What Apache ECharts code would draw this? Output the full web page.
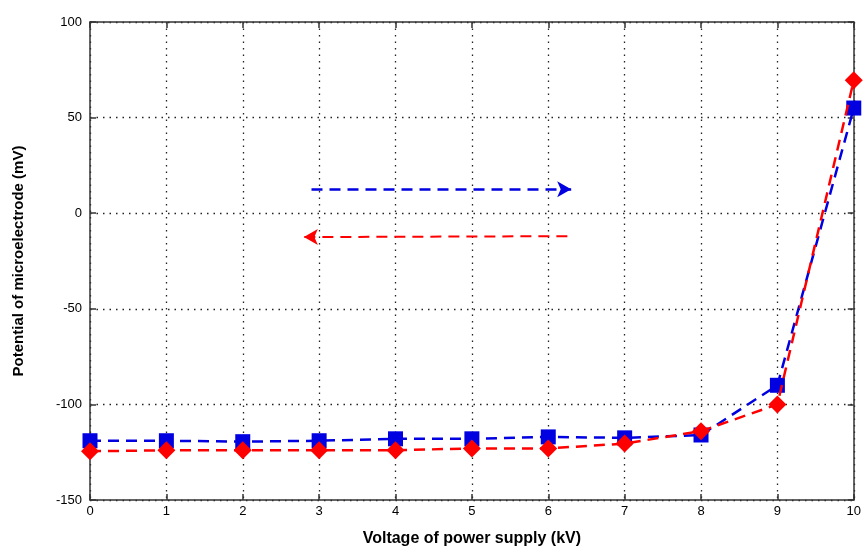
<!DOCTYPE html>
<html><head><meta charset="utf-8">
<script src="https://cdn.jsdelivr.net/npm/echarts@6/dist/echarts.min.js"></script>
<style>html,body{margin:0;padding:0;background:#fff}#c{width:864px;height:552px}</style>
</head><body><div id="c"></div>
<script>
const voltage = [0,1,2,3,4,5,6,7,8,9,10];
const increasing = [-119,-119,-119.5,-119,-118,-118,-117,-117.5,-116,-90,55];
const decreasing = [-124.5,-124,-124,-124,-124,-123,-123,-120.5,-114,-100,69.5];
const blueArrow = [[2.9,12.5],[6.3,12.5]];
const redArrow = [[6.25,-12],[2.8,-12.5]];
const yTicks = [-150,-100,-50,0,50,100];

const font = '"Liberation Sans Narrow","Arial Narrow","Liberation Sans",Arial,sans-serif';
const chart = echarts.init(document.getElementById('c'));
const axisLine = {show:true, onZero:false, lineStyle:{color:'#333', width:1.5}};
const tick = {show:true, inside:true, length:6, lineStyle:{color:'#333', width:1.5}};
chart.setOption({
  animation:false,
  grid:{left:90, right:7, top:22, bottom:47, containLabel:false},
  xAxis:[{
    type:'value', min:0, max:10, interval:1,
    name:'Voltage of power supply (kV)', nameLocation:'middle', nameGap:31,
    nameTextStyle:{fontFamily:font, fontWeight:'bold', fontSize:16, color:'#000'},
    axisLine:axisLine, axisTick:tick,
    axisLabel:{fontFamily:font, fontSize:13, color:'#000', margin:5},
    splitLine:{show:true, lineStyle:{type:[1.5,5], color:'#222', width:1.3}}
  },{
    type:'value', min:0, max:10, interval:1, position:'top',
    axisLine:axisLine, axisTick:tick,
    axisLabel:{show:false}, splitLine:{show:false}
  }],
  yAxis:[{
    type:'value', min:-150, max:100, interval:50,
    name:'Potential of microelectrode (mV)', nameLocation:'middle', nameGap:64,
    nameTextStyle:{fontFamily:font, fontWeight:'bold', fontSize:15, color:'#000'},
    axisLine:axisLine, axisTick:tick,
    axisLabel:{fontFamily:font, fontSize:13, color:'#000', margin:8},
    splitLine:{show:true, lineStyle:{type:[1.5,5], color:'#222', width:1.3}}
  },{
    type:'value', min:-150, max:100, interval:50, position:'right',
    axisLine:axisLine, axisTick:tick,
    axisLabel:{show:false}, splitLine:{show:false}
  }],
  series:[{
    type:'line', data:voltage.map((v,i)=>[v,increasing[i]]),
    symbol:'rect', symbolSize:15, z:3,
    itemStyle:{color:'#0000e0'},
    lineStyle:{color:'#0000e0', width:2.5, type:[11,7]},
    markLine:{
      silent:true, symbol:['none','arrow'], symbolSize:[12,14], label:{show:false},
      lineStyle:{color:'#0000e0', width:2.5, type:[11,7]},
      data:[[{coord:blueArrow[0]},{coord:blueArrow[1]}]]
    }
  },{
    type:'line', data:voltage.map((v,i)=>[v,decreasing[i]]),
    symbol:'diamond', symbolSize:18, z:4,
    itemStyle:{color:'#ff0000'},
    lineStyle:{color:'#ff0000', width:2.5, type:[11,7]},
    markLine:{
      silent:true, symbol:['none','arrow'], symbolSize:[12,14], label:{show:false},
      lineStyle:{color:'#ff0000', width:2, type:[11,7]},
      data:[[{coord:redArrow[0]},{coord:redArrow[1]}]]
    }
  }]
});
</script></body></html>
